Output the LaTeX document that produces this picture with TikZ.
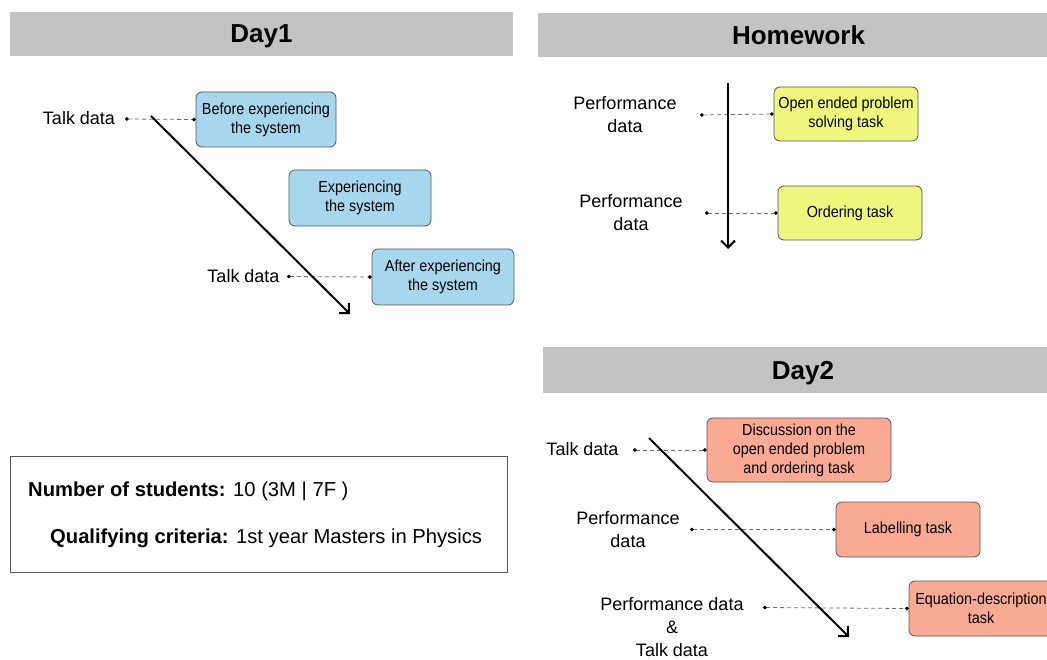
\documentclass[tikz,border=0pt]{standalone}
\usepackage{fontspec}
\setmainfont{Liberation Sans}
\newfontfamily\taskfont[FakeStretch=0.9]{Liberation Sans}
\usetikzlibrary{arrows.meta}

\definecolor{headgray}{RGB}{195,195,195}
\definecolor{skyfill}{RGB}{166,215,239}
\definecolor{lemonfill}{RGB}{238,247,124}
\definecolor{salmonfill}{RGB}{249,170,146}
\definecolor{edgegray}{RGB}{85,85,85}
\definecolor{dashgray}{RGB}{110,110,110}

\begin{document}
\begin{tikzpicture}[x=1pt,y=-1pt,
  header/.style={fill=headgray, draw=none, minimum height=44pt, inner sep=0pt,
    text depth=0pt, font=\fontsize{26}{30}\selectfont\bfseries},
  task/.style={draw=edgegray, line width=0.8pt, rounded corners=6pt, inner sep=2pt,
    align=center, font=\taskfont\fontsize{16}{19}\selectfont},
  bluetask/.style={task, fill=skyfill},
  yellowtask/.style={task, fill=lemonfill},
  redtask/.style={task, fill=salmonfill},
  datalabel/.style={align=center, inner sep=0pt, font=\fontsize{18}{23}\selectfont},
  link/.style={draw=dashgray, line width=0.8pt, dash pattern=on 4pt off 3pt,
    {Circle[length=3.6pt,color=black]}-{Circle[length=3.6pt,color=black]}},
  timeline/.style={line width=2pt, -{Straight Barb[length=7pt,width=14pt]}},
  infotext/.style={anchor=base west, inner sep=0pt, font=\fontsize{20.2}{24}\selectfont},
]
\clip (0,0) rectangle (1047,660);
\useasboundingbox (0,0) rectangle (1047,660);

% ---------- section headers ----------
\node[header, minimum width=503pt] (day1head) at (261.5,34) {Day1};
\node[header, minimum width=521pt] (hwhead) at (798.5,35) {Homework};
\node[header, minimum width=520pt, minimum height=46pt] (day2head) at (803,370) {Day2};

% ---------- Day 1 ----------
\node[bluetask, minimum width=140pt, minimum height=55pt] (before) at (266,119.5)
  {Before experiencing\\the system};
\node[bluetask, minimum width=142pt, minimum height=56pt] (during) at (360,198)
  {Experiencing\\the system};
\node[bluetask, minimum width=142pt, minimum height=56pt] (after) at (443,277)
  {After experiencing\\the system};

\node[datalabel] (talkA) at (79,118) {Talk data};
\node[datalabel] (talkB) at (243.5,276) {Talk data};
\coordinate (talkAdot) at (125,119);
\coordinate (talkBdot) at (287,276.5);
\draw[link] (talkAdot) -- (before.west);
\draw[link] (talkBdot) -- (after.west);

\coordinate (dayonestart) at (151,116);
\coordinate (dayoneend) at (350,314);
\draw[timeline] (dayonestart) -- (dayoneend);

% ---------- Homework ----------
\node[yellowtask, minimum width=144pt, minimum height=54pt] (openended) at (846,114)
  {Open ended problem\\solving task};
\node[yellowtask, minimum width=144pt, minimum height=54pt] (ordering) at (850,213)
  {Ordering task};

\node[datalabel] (perfA) at (625,115) {Performance\\data};
\node[datalabel] (perfB) at (631,213) {Performance\\data};
\coordinate (perfAdot) at (700,115);
\coordinate (perfBdot) at (705,213);
\draw[link] (perfAdot) -- (openended.west);
\draw[link] (perfBdot) -- (ordering.west);

\coordinate (hwstart) at (728,83);
\coordinate (hwend) at (728,249);
\draw[timeline] (hwstart) -- (hwend);

% ---------- Day 2 ----------
\node[redtask, minimum width=184pt, minimum height=64pt] (discussion) at (799,450)
  {Discussion on the\\open ended problem\\and ordering task};
\node[redtask, minimum width=144pt, minimum height=55pt] (labelling) at (908,529.5)
  {Labelling task};
\node[redtask, minimum width=144pt, minimum height=55pt] (equation) at (981,608.5)
  {Equation-description\\task};

\node[datalabel] (talkC) at (582.5,449) {Talk data};
\node[datalabel] (perfC) at (628,530) {Performance\\data};
\node[datalabel] (mixed) at (672,627.5) {Performance data\\\&\\Talk data};
\coordinate (talkCdot) at (633,450);
\coordinate (perfCdot) at (690,529.5);
\coordinate (mixeddot) at (763,607.5);
\draw[link] (talkCdot) -- (discussion.west);
\draw[link] (perfCdot) -- (labelling.west);
\draw[link] (mixeddot) -- (equation.west);

\coordinate (daytwostart) at (649,438);
\coordinate (daytwoend) at (849,637);
\draw[timeline] (daytwostart) -- (daytwoend);

% ---------- participants summary ----------
\node[draw=edgegray, line width=1pt, minimum width=497pt, minimum height=116pt,
  inner sep=0pt] (summary) at (258.5,514) {};
\node[infotext] (students) at (28,496) {\textbf{Number of students:} 10 (3M | 7F )};
\node[infotext] (criteria) at (50,543) {\textbf{Qualifying criteria:} 1st year Masters in Physics};
\end{tikzpicture}
\end{document}
